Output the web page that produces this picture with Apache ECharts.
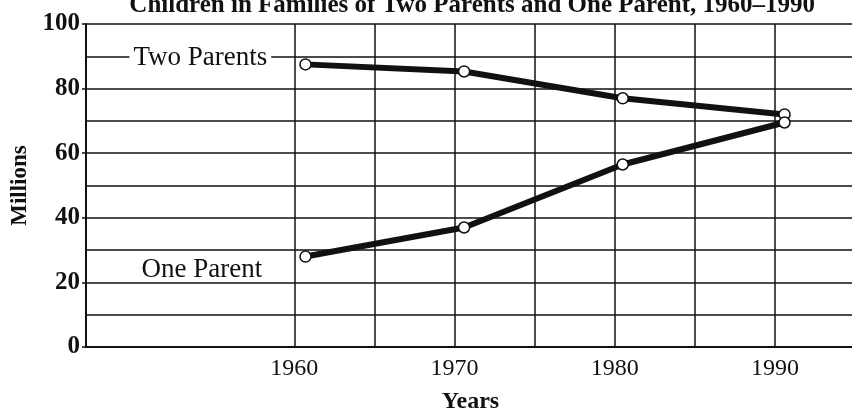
<!DOCTYPE html>
<html>
<head>
<meta charset="utf-8">
<script src="https://cdn.jsdelivr.net/npm/echarts@6/dist/echarts.min.js"></script>
<style>
  html, body { margin: 0; padding: 0; background: #fff; }
  #chart { width: 852px; height: 411px; }
</style>
</head>
<body>
<div id="chart"></div>
<script>
// values (points sit a little right of the grid lines)
const pointYears = [1960.7, 1970.6, 1980.5, 1990.6];
const twoParents = [87.5, 85.3, 77, 72];
const oneParent = [28, 37, 56.5, 69.5];
const yearLabels = [1960, 1970, 1980, 1990];
const gridYears = [1960, 1965, 1970, 1975, 1980, 1985, 1990, 1995];
const seriesNames = ['Two Parents', 'One Parent'];

const serif = 'Liberation Serif';

function pairs(xs, ys) {
    return xs.map((x, i) => [x, ys[i]]);
}

const myChart = echarts.init(document.getElementById('chart'), null, { renderer: 'canvas' });

const option = {
    animation: false,
    backgroundColor: '#fff',
    title: {
        text: 'Children in Families of Two Parents and One Parent, 1960\u20131990',
        right: 32,
        top: -12,
        textStyle: { fontFamily: serif, fontWeight: 'bold', fontSize: 25, color: '#111' }
    },
    grid: { left: 86, top: 24, width: 769, height: 323, outerBoundsMode: 'none', containLabel: false },
    xAxis: {
        type: 'value',
        min: 1947,
        max: 1995,
        name: 'Years',
        nameLocation: 'middle',
        nameGap: 43,
        nameTextStyle: { fontFamily: serif, fontWeight: 'bold', fontSize: 24, color: '#111' },
        axisLine: { onZero: false, lineStyle: { color: '#111', width: 2 } },
        axisTick: { show: false },
        splitLine: { show: false },
        axisLabel: {
            customValues: yearLabels,
            formatter: (v) => String(v),
            margin: 10,
            fontFamily: serif,
            fontSize: 24,
            color: '#111'
        }
    },
    yAxis: {
        type: 'value',
        min: 0,
        max: 100,
        interval: 20,
        name: 'Millions',
        nameLocation: 'middle',
        nameRotate: 90,
        nameGap: 54,
        nameTextStyle: { fontFamily: serif, fontWeight: 'bold', fontSize: 23, color: '#111' },
        axisLine: { show: true, onZero: false, lineStyle: { color: '#111', width: 2 } },
        axisTick: { show: true, length: 4, lineStyle: { color: '#111', width: 1.5 } },
        minorTick: { show: false, splitNumber: 2 },
        splitLine: { show: true, lineStyle: { color: '#111', width: 1.5 } },
        minorSplitLine: { show: true, lineStyle: { color: '#111', width: 1.5 } },
        axisLabel: { margin: 6, fontFamily: serif, fontWeight: 'bold', fontSize: 25, color: '#111' }
    },
    series: [
        {
            name: seriesNames[0],
            type: 'line',
            data: pairs(pointYears, twoParents),
            symbol: 'circle',
            symbolSize: 11,
            lineStyle: { color: '#111', width: 6 },
            itemStyle: { color: '#fff', borderColor: '#111', borderWidth: 1.5 },
            label: {
                show: true,
                position: 'left',
                distance: 28,
                offset: [0, -6],
                formatter: (p) => p.dataIndex === 0 ? seriesNames[0] : '',
                fontFamily: serif,
                fontSize: 27,
                color: '#111',
                backgroundColor: '#fff',
                padding: [0, 4]
            },
            markLine: {
                silent: true,
                symbol: ['none', 'none'],
                label: { show: false },
                lineStyle: { color: '#111', width: 1.5, type: 'solid' },
                data: gridYears.map((y) => ({ xAxis: y }))
            },
            z: 3
        },
        {
            name: seriesNames[1],
            type: 'line',
            data: pairs(pointYears, oneParent),
            symbol: 'circle',
            symbolSize: 11,
            lineStyle: { color: '#111', width: 6 },
            itemStyle: { color: '#fff', borderColor: '#111', borderWidth: 1.5 },
            label: {
                show: true,
                position: 'left',
                distance: 37,
                offset: [0, 13],
                formatter: (p) => p.dataIndex === 0 ? seriesNames[1] : '',
                fontFamily: serif,
                fontSize: 27,
                color: '#111'
            },
            z: 3
        }
    ]
};

myChart.setOption(option);
</script>
</body>
</html>
